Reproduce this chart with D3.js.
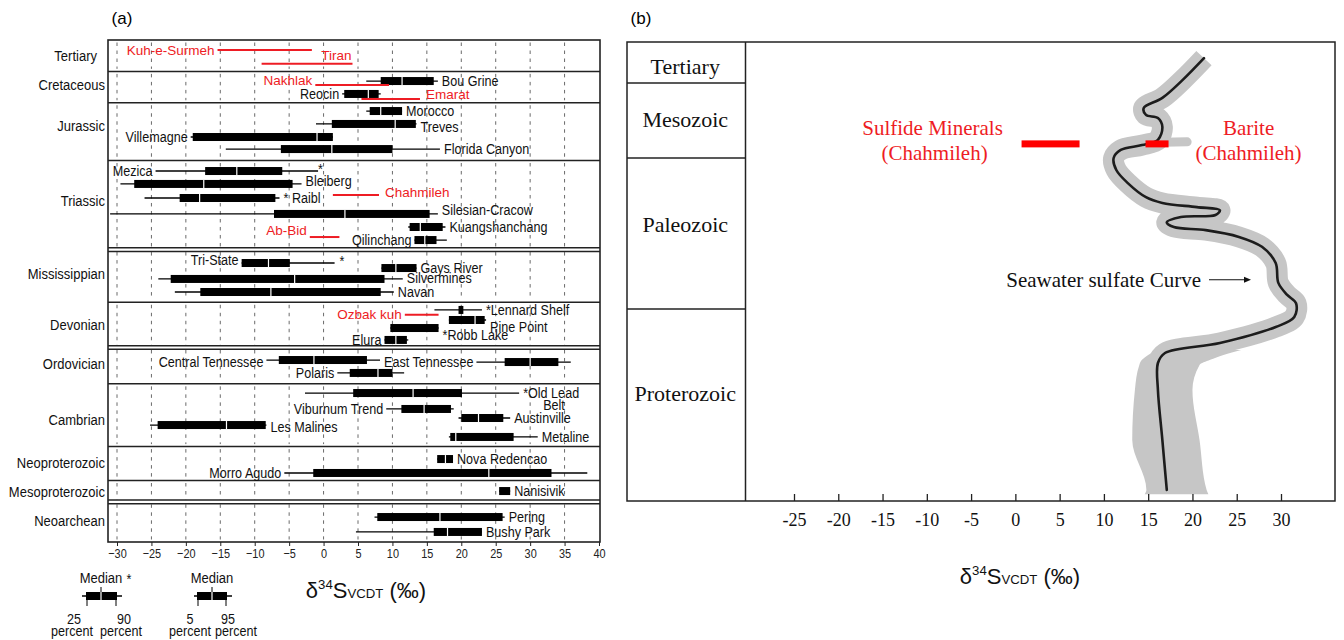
<!DOCTYPE html>
<html>
<head>
<meta charset="utf-8">
<script src="https://d3js.org/d3.v7.min.js"></script>
<style>
body { margin:0; background:#fff; }
svg text { font-family: "Liberation Sans", Arial, sans-serif; }
svg text.serif { font-family: "Liberation Serif", "Times New Roman", serif; }
</style>
</head>
<body>
<svg id="chart" width="1344" height="640"></svg>
<script>
// ---------------- panel (a) data ----------------
var eras = ["Tertiary","Cretaceous","Jurassic","Triassic","Mississippian","Devonian",
            "Ordovician","Cambrian","Neoproterozoic","Mesoproterozoic","Neoarchean"];
var eraRows = [2.5, 2.5, 4.6, 7.1, 4.2, 3.6, 2.9, 5.0, 2.7, 1.7, 3.2];
var doubleAfter = ["Triassic","Devonian","Mesoproterozoic"];
var xTicksA = d3.range(-30, 41, 5);

// name, era, row in era, whisker low, box low, median, box high, whisker high
var deposits = [
  ["Bou Grine","Cretaceous",0.77, 6.2, 8.3, 11.4, 16.0, 16.6],
  ["Reocin","Cretaceous",1.8, 2.7, 3.0, 6.5, 8.0, 8.3],
  ["Morocco","Jurassic",0.66, 6.2, 6.7, 8.3, 11.4, 11.4],
  ["Treves","Jurassic",1.69, -1.1, 1.2, 10.4, 13.4, 13.5],
  ["Villemagne","Jurassic",2.73, -19.3, -19.0, -0.95, 1.35, 1.35],
  ["Florida Canyon","Jurassic",3.69, -14.2, -6.2, 1.2, 10.0, 16.9],
  ["Mezica","Triassic",0.84, -24.4, -17.2, -12.6, -6.0, -0.8],
  ["Bleiberg","Triassic",1.87, -29.5, -27.5, -17.4, -4.5, -3.2],
  ["Raibl","Triassic",2.99, -26.0, -20.9, -18.0, -7.0, -6.4],
  ["Silesian-Cracow","Triassic",4.26, -31.0, -7.2, 3.1, 15.4, 16.6],
  ["Kuangshanchang","Triassic",5.3, 12.3, 12.5, 14.05, 17.3, 17.7],
  ["Qilinchang","Triassic",6.34, 13.2, 13.2, 14.7, 16.4, 17.9],
  ["Tri-State","Mississippian",1.07, -11.9, -11.9, -8.0, -4.9, 1.6],
  ["Gays River","Mississippian",1.47, 8.4, 8.4, 10.5, 13.5, 13.5],
  ["Silvermines","Mississippian",2.34, -24.0, -22.2, -4.2, 8.85, 11.5],
  ["Navan","Mississippian",3.38, -21.6, -17.9, -7.65, 8.3, 10.2],
  ["Lennard Shelf","Devonian",0.61, 16.1, 19.6, null, 20.3, 23.0],
  ["Pine Point","Devonian",1.41, 18.2, 18.2, 22.0, 23.4, 23.6],
  ["Robb Lake","Devonian",2.05, 9.7, 9.7, null, 16.7, 16.7],
  ["Elura","Devonian",3.0, 8.85, 8.85, 10.5, 12.1, 12.3],
  ["Central Tennessee","Ordovician",1.0, -8.3, -6.5, -1.4, 6.3, 8.2],
  ["East Tennessee","Ordovician",1.16, 22.2, 26.3, 30.0, 34.1, 35.9],
  ["Polaris","Ordovician",2.03, 2.0, 3.8, 7.9, 10.0, 11.7],
  ["Old Lead Belt","Cambrian",0.73, -2.7, 4.3, 13.0, 20.1, 28.4],
  ["Viburnum Trend","Cambrian",2.0, 9.1, 11.3, 14.6, 18.5, 18.9],
  ["Austinville","Cambrian",2.72, 19.6, 20.0, 22.5, 26.1, 27.1],
  ["Les Malines","Cambrian",3.28, -25.2, -24.1, -14.1, -8.4, -8.3],
  ["Metaline","Cambrian",4.23, 18.2, 18.4, 19.2, 27.6, 31.1],
  ["Nova Redencao","Neoproterozoic",0.99, 16.5, 16.5, 17.7, 18.8, 18.8],
  ["Morro Agudo","Neoproterozoic",2.1, -5.7, -1.5, 24.0, 33.1, 38.3],
  ["Nanisivik","Mesoproterozoic",0.84, 25.5, 25.5, null, 27.1, 27.1],
  ["Pering","Neoarchean",1.21, 7.4, 7.8, 16.9, 26.0, 26.3],
  ["Bushy Park","Neoarchean",2.4, 4.7, 16.0, 18.0, 23.0, 23.0]
];

// Iranian deposits (red ranges): name, era, row, low, high
var iranDeposits = [
  ["Kuh-e-Surmeh","Tertiary",0.8, -15.4, -1.7],
  ["Tiran","Tertiary",1.9, -9.0, 4.2],
  ["Nakhlak","Cretaceous",1.09, -1.2, 9.5],
  ["Emarat","Cretaceous",2.2, 5.5, 14.0],
  ["Chahmileh","Triassic",2.75, 1.35, 8.05],
  ["Ab-Bid","Triassic",6.1, -2.0, 2.3],
  ["Ozbak kuh","Devonian",1.0, 11.8, 16.7]
];
var starAtEnd = ["Mezica","Tri-State"];

// label layout: side, vertical shift, text override
var labelSpec = {
  "Kuh-e-Surmeh":["l",0], "Tiran":["e",-8], "Nakhlak":["l",-5], "Emarat":["r",-4],
  "Bou Grine":["r",0], "Reocin":["l",0], "Morocco":["r",0], "Treves":["r",3],
  "Villemagne":["l",0], "Florida Canyon":["r",0], "Mezica":["l",0], "Bleiberg":["r",-3],
  "Raibl":["r",0,"* Raibl"], "Chahmileh":["r",-2], "Silesian-Cracow":["r",-4],
  "Kuangshanchang":["r",0], "Ab-Bid":["l",-7], "Qilinchang":["l",0],
  "Tri-State":["l",-3], "Gays River":["r",0], "Silvermines":["r",-1], "Navan":["r",0],
  "Lennard Shelf":["r",0,"*Lennard Shelf"], "Ozbak kuh":["l",0], "Pine Point":["r",7],
  "Robb Lake":["r",7,"*Robb Lake"], "Elura":["l",0], "Central Tennessee":["l",2],
  "East Tennessee":["l",0], "Polaris":["l",0], "Old Lead Belt":["r",0,"*Old Lead"],
  "Viburnum Trend":["l",0], "Austinville":["r",0], "Les Malines":["r",2],
  "Metaline":["r",0], "Nova Redencao":["r",0], "Morro Agudo":["l",0],
  "Nanisivik":["r",0], "Pering":["r",0], "Bushy Park":["r",0]
};
var eraLabelShift = [0, -2, -6, -4, -2, 0, -2, 4, -1, 0, -1];

// ---------------- panel (b) data ----------------
var eonsB = ["Tertiary","Mesozoic","Paleozoic","Proterozoic"];
var eonStartB = [0, 66, 252, 541, 2500];   // Ma
var xTicksB = d3.range(-25, 31, 5);

// seawater sulfate curve (age Ma, d34S permil)
var curveAge = [26, 61, 103, 128, 145, 153, 175, 207, 220, 232, 252, 275, 300, 327, 338, 346,
                352, 361, 365, 375, 384, 390, 403, 422, 453, 491, 514, 530, 623, 725, 888,
                990, 1092, 1367, 1877, 2387];
var curveD34S = [21.3, 18.9, 16.6, 14.5, 14.75, 16.1, 16.6, 16.1, 14.3, 11.9, 11.1, 11.4, 12.7,
                 14.75, 16.6, 20.5, 23.1, 22.6, 18.7, 17.1, 17.9, 21.5, 25.25, 27.85, 29.4,
                 29.7, 30.7, 31.7, 31.5, 29.4, 23.1, 16.9, 16.1, 16.1, 16.6, 17.1];
// widened uncertainty band in the Proterozoic
var bandAge = [960, 1010, 1060, 1112, 1367, 1877, 2387, 2430];
var bandLo  = [16.0, 15.0, 14.3, 14.0, 13.5, 13.2, 14.8, 14.6];
var bandHi  = [25.5, 23.5, 22.0, 20.8, 20.0, 20.8, 21.6, 21.8];
var spurAge = [214, 212];
var spurD34S = [14.0, 19.4];

var sulfideRange = [0.7, 7.25];
var bariteRange = [14.7, 17.3];
var chahmilehAge = 217;

// ---------------- drawing ----------------
var svg = d3.select("#chart");
var RED = "#ee1c24";
var NARROW = 0.84;

// condensed text, as in the original figure
function ntext(g, x, y, str, size, anchor){
  return g.append("text")
    .attr("transform", "translate(" + x + "," + y + ") scale(" + NARROW + ",1)")
    .attr("text-anchor", anchor || "start").attr("dominant-baseline", "central")
    .attr("font-size", size).attr("fill", "#111").text(str);
}

// ===== panel (a) =====
var xA = d3.scaleLinear().domain([-30, 40]).range([117, 599]);
var totalRows = d3.sum(eraRows);
var yA = d3.scaleLinear().domain([0, totalRows]).range([40, 542]);
var eraStart = d3.cumsum([0].concat(eraRows.slice(0, -1)));
var eraIdx = {};
eras.forEach(function(e, i){ eraIdx[e] = i; });
function rowY(era, row){ return yA(eraStart[eraIdx[era]] + row); }

var boxL = 108, boxR = 600;
var gA = svg.append("g");

svg.append("text").attr("x",122).attr("y",24)
  .attr("text-anchor","middle").attr("font-size",17).text("(a)");

// dashed grid inside each band
eras.forEach(function(e, i){
  var y0 = yA(eraStart[i]) + 2.5, y1 = yA(eraStart[i] + eraRows[i]) - 2.5;
  gA.selectAll(null).data(xTicksA.filter(function(v){ return v < 40; })).enter()
    .append("line")
    .attr("x1", function(v){ return xA(v); }).attr("x2", function(v){ return xA(v); })
    .attr("y1", y0).attr("y2", y1)
    .attr("stroke", "#6a6a6a").attr("stroke-width", 1)
    .attr("stroke-dasharray", "3.5,4.5");
});

// era separators
eras.forEach(function(e, i){
  if (i === 0) return;
  var y = yA(eraStart[i]);
  var ys = doubleAfter.indexOf(eras[i-1]) >= 0 ? [y - 1.8, y + 1.8] : [y];
  ys.forEach(function(yy){
    gA.append("line").attr("x1", boxL).attr("x2", boxR).attr("y1", yy).attr("y2", yy)
      .attr("stroke", "#222").attr("stroke-width", 1.5);
  });
});
gA.append("rect").attr("x", boxL).attr("y", 40).attr("width", boxR - boxL).attr("height", 502)
  .attr("fill", "none").attr("stroke", "#222").attr("stroke-width", 1.6);

// era labels
eras.forEach(function(e, i){
  ntext(gA, e === "Tertiary" ? 97 : 105, yA(eraStart[i] + eraRows[i] / 2) + eraLabelShift[i], e, 15.5, "end");
});

// x axis of (a)
var axA = gA.append("g").attr("transform", "translate(0,542)")
  .call(d3.axisBottom(xA).tickValues(xTicksA).tickSize(4).tickPadding(3)
        .tickFormat(function(d){ return d < 0 ? "\u2212" + Math.abs(d) : d; }));
axA.select(".domain").remove();
axA.selectAll("line").attr("stroke", "#222");
axA.selectAll("text").attr("font-size", 13).attr("fill", "#222")
  .attr("transform", "scale(" + NARROW + ",1)")
  .style("font-family", "'Liberation Sans', Arial, sans-serif");

// box plots
var BH = 4;
deposits.forEach(function(d){
  var y = rowY(d[1], d[2]);
  gA.append("line").attr("x1", xA(d[3])).attr("x2", xA(d[7])).attr("y1", y).attr("y2", y)
    .attr("stroke", "#000").attr("stroke-width", 1.3);
  gA.append("rect").attr("x", xA(d[4])).attr("y", y - BH)
    .attr("width", xA(d[6]) - xA(d[4])).attr("height", 2 * BH).attr("fill", "#000");
  if (d[5] !== null) {
    gA.append("line").attr("x1", xA(d[5])).attr("x2", xA(d[5]))
      .attr("y1", y - BH).attr("y2", y + BH).attr("stroke", "#fff").attr("stroke-width", 1.2);
  }
  var s = labelSpec[d[0]];
  var txt = s[2] || d[0];
  if (s[0] === "r") ntext(gA, xA(d[7]) + 4, y + s[1], txt, 15, "start");
  else ntext(gA, xA(d[3]) - 3, y + s[1], txt, 15, "end");
  if (d[0] === "Old Lead Belt") ntext(gA, xA(d[7]) + 24, y + 12, "Belt", 15, "start");
  if (starAtEnd.indexOf(d[0]) >= 0)
    ntext(gA, xA(d[7]) + (d[0] === "Tri-State" ? 5 : 0), y - 2, "*", 15, "start");
});

// red ranges
iranDeposits.forEach(function(d){
  var y = rowY(d[1], d[2]);
  gA.append("line").attr("x1", xA(d[3])).attr("x2", xA(d[4])).attr("y1", y).attr("y2", y)
    .attr("stroke", RED).attr("stroke-width", 2);
  var s = labelSpec[d[0]];
  var t = gA.append("text").attr("font-size", 13.5).attr("fill", RED)
    .attr("dominant-baseline", "central").attr("y", y + s[1]);
  if (s[0] === "r") t.attr("x", xA(d[4]) + 6).attr("text-anchor", "start");
  else if (s[0] === "e") t.attr("x", xA(d[4]) - 1).attr("text-anchor", "end");
  else t.attr("x", xA(d[3]) - 3).attr("text-anchor", "end");
  t.text(d[0]);
});

// legend of (a)
function legendBox(cx, lo, q1, q3, hi, y, lowTxt, highTxt, lowX, highX, lowPX, highPX){
  gA.append("line").attr("x1", lo).attr("x2", hi).attr("y1", y).attr("y2", y)
    .attr("stroke", "#000").attr("stroke-width", 1.3);
  gA.append("rect").attr("x", q1).attr("y", y - 4).attr("width", q3 - q1).attr("height", 8).attr("fill", "#000");
  gA.append("line").attr("x1", cx).attr("x2", cx).attr("y1", y - 9).attr("y2", y - 4)
    .attr("stroke", "#000").attr("stroke-width", 1);
  gA.append("line").attr("x1", cx).attr("x2", cx).attr("y1", y - 4).attr("y2", y + 4)
    .attr("stroke", "#fff").attr("stroke-width", 1.2);
  [q1 + 1, q3 - 1].forEach(function(x){
    gA.append("line").attr("x1", x).attr("x2", x).attr("y1", y + 4).attr("y2", y + 10)
      .attr("stroke", "#000").attr("stroke-width", 1);
  });
  ntext(gA, cx, y - 18, "Median", 15.5, "middle");
  [[lowTxt, lowX, 619], ["percent", lowPX, 631], [highTxt, highX, 619], ["percent", highPX, 631]]
    .forEach(function(p){ ntext(gA, p[1], p[2], p[0], 15, "middle"); });
}
legendBox(101, 82, 86, 117, 122, 596, "25", "90", 74, 124, 72, 121);
ntext(gA, 129, 579, "*", 15, "middle");
legendBox(212, 194, 197, 227, 232, 596, "5", "95", 190, 228, 190, 236);

function axisTitle(g, cx, y, size){
  var t = g.append("text").attr("x", cx).attr("y", y)
    .attr("text-anchor", "middle").attr("font-size", size).attr("fill", "#111");
  t.append("tspan").text("\u03b4");
  t.append("tspan").attr("font-size", size * 0.6).attr("dy", -size * 0.42).text("34");
  t.append("tspan").attr("dy", size * 0.42).text("S");
  t.append("tspan").attr("font-size", size * 0.6).text("VCDT");
  t.append("tspan").text(" (\u2030)");
}
axisTitle(gA, 366, 598, 22);

// ===== panel (b) =====
var gB = svg.append("g");
var xB = d3.scaleLinear().domain([-25, 30]).range([794, 1281]);
var yB = d3.scaleLinear().domain(eonStartB).range([42, 83, 158, 309, 501]);
var bL = 627, bDiv = 745.5, bR = 1335, bTop = 42, bBot = 501;

svg.append("text").attr("x",641).attr("y",24)
  .attr("text-anchor","middle").attr("font-size",17).text("(b)");

// uncertainty band
var line = d3.line().x(function(d){ return xB(d[1]); }).y(function(d){ return yB(d[0]); })
  .curve(d3.curveCatmullRom.alpha(0.5));
var curvePts = curveAge.map(function(a, i){ return [a, curveD34S[i]]; });
var BAND = "#c6c6c6";
gB.append("path").attr("d", line(curvePts)).attr("fill", "none")
  .attr("stroke", BAND).attr("stroke-width", 21)
  .attr("stroke-linejoin", "round").attr("stroke-linecap", "butt");
var area = d3.area().y(function(d){ return yB(d[0]); })
  .x0(function(d){ return xB(d[1]); }).x1(function(d){ return xB(d[2]); })
  .curve(d3.curveMonotoneY);
gB.append("path").attr("d", area(bandAge.map(function(a, i){ return [a, bandLo[i], bandHi[i]]; })))
  .attr("fill", BAND);
gB.append("path").attr("d", d3.line()(spurAge.map(function(a, i){ return [xB(spurD34S[i]), yB(a)]; })))
  .attr("stroke", BAND).attr("stroke-width", 9).attr("stroke-linecap", "round");

// seawater curve
gB.append("path").attr("d", line(curvePts)).attr("fill", "none")
  .attr("stroke", "#1c1c1c").attr("stroke-width", 2.6).attr("stroke-linecap", "round");

// frame
gB.append("rect").attr("x", bL).attr("y", bTop).attr("width", bR - bL).attr("height", bBot - bTop)
  .attr("fill", "none").attr("stroke", "#222").attr("stroke-width", 1.5);
gB.append("line").attr("x1", bDiv).attr("x2", bDiv).attr("y1", bTop).attr("y2", bBot)
  .attr("stroke", "#222").attr("stroke-width", 1.5);
eonStartB.slice(1, -1).forEach(function(a){
  gB.append("line").attr("x1", bL).attr("x2", bDiv).attr("y1", yB(a)).attr("y2", yB(a))
    .attr("stroke", "#222").attr("stroke-width", 1.5);
});
var eonLabelPos = [0.6, 0.49, 0.44, 0.44];
eonsB.forEach(function(e, i){
  var y0 = yB(eonStartB[i]), y1 = yB(eonStartB[i + 1]);
  gB.append("text").attr("class", "serif").attr("x", (bL + bDiv) / 2 - 1)
    .attr("y", y0 + (y1 - y0) * eonLabelPos[i]).attr("text-anchor", "middle")
    .attr("dominant-baseline", "central").attr("font-size", 22).attr("fill", "#111").text(e);
});

// x axis (b)
var axB = gB.append("g").attr("transform", "translate(0," + bBot + ")")
  .call(d3.axisBottom(xB).tickValues(xTicksB).tickSizeInner(-7).tickSizeOuter(0).tickPadding(12)
        .tickFormat(function(d){ return String(d); }));
axB.select(".domain").remove();
axB.selectAll("line").attr("stroke", "#222").attr("stroke-width", 1.3);
axB.selectAll("text").attr("font-size", 18).attr("fill", "#111")
  .style("font-family", "'Liberation Serif', 'Times New Roman', serif");
axisTitle(gB, 1020, 584, 22);

// Chahmileh bars
var yC = yB(chahmilehAge);
[sulfideRange, bariteRange].forEach(function(r){
  gB.append("rect").attr("x", xB(r[0])).attr("y", yC - 3.5)
    .attr("width", xB(r[1]) - xB(r[0])).attr("height", 7).attr("fill", "#ff0000");
});
[["Sulfide Minerals", xB(sulfideRange[0]) - 89, -16], ["(Chahmileh)", xB(sulfideRange[0]) - 87, 9],
 ["Barite", xB(bariteRange[1]) + 80, -16], ["(Chahmileh)", xB(bariteRange[1]) + 80, 9]]
  .forEach(function(p){
    gB.append("text").attr("class", "serif").attr("x", p[1]).attr("y", yC + p[2])
      .attr("text-anchor", "middle").attr("dominant-baseline", "central")
      .attr("font-size", 21).attr("fill", RED).text(p[0]);
  });

// curve annotation
var yS = yB(485);
gB.append("text").attr("class", "serif").attr("x", 1201).attr("y", yS)
  .attr("text-anchor", "end").attr("dominant-baseline", "central")
  .attr("font-size", 21).attr("fill", "#111").text("Seawater sulfate Curve");
gB.append("line").attr("x1", 1209).attr("x2", 1246).attr("y1", yS).attr("y2", yS)
  .attr("stroke", "#111").attr("stroke-width", 1.2);
gB.append("path").attr("d", "M1251," + yS + "l-7,-3v6z").attr("fill", "#111");
</script>
</body>
</html>
